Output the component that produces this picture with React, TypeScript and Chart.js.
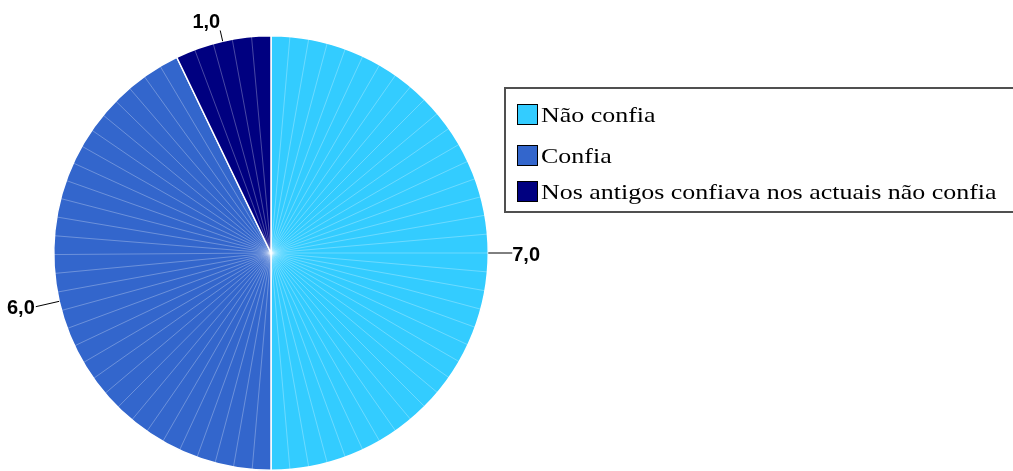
import React, { useEffect, useRef } from "react";
import { Chart, registerables } from "chart.js";

Chart.register(...registerables);

const categories = ["Não confia", "Confia", "Nos antigos confiava nos actuais não confia"];
const values = [7, 6, 1];
const valueLabels = ["7,0", "6,0", "1,0"];
const colors = ["#33CCFF", "#3366CC", "#000080"];

const leaderLengths = [24, 24, 11];
const legendRowTops = [104, 145, 181];

const spokesPlugin = {
  id: "spokes",
  afterDatasetsDraw(chart: any) {
    const ctx = chart.ctx;
    const meta = chart.getDatasetMeta(0);
    ctx.save();
    ctx.strokeStyle = "rgba(255,255,255,0.28)";
    ctx.lineWidth = 1;
    meta.data.forEach((el: any) => {
      const { x, y, startAngle, endAngle, outerRadius } = el.getProps(
        ["x", "y", "startAngle", "endAngle", "outerRadius"],
        true
      );
      const span = endAngle - startAngle;
      const n = Math.max(1, Math.round(span / ((5 * Math.PI) / 180)));
      const step = span / n;
      for (let k = 1; k < n; k++) {
        const a = startAngle + k * step;
        ctx.beginPath();
        ctx.moveTo(x, y);
        ctx.lineTo(x + outerRadius * Math.cos(a), y + outerRadius * Math.sin(a));
        ctx.stroke();
      }
    });
    ctx.restore();
  },
};

const labelsPlugin = {
  id: "valueLabels",
  afterDraw(chart: any) {
    const ctx = chart.ctx;
    const meta = chart.getDatasetMeta(0);
    ctx.save();
    ctx.font = 'bold 20px "Liberation Sans", Arial, sans-serif';
    ctx.fillStyle = "#000";
    ctx.strokeStyle = "#000";
    ctx.lineWidth = 1;
    meta.data.forEach((el: any, i: number) => {
      const { x, y, startAngle, endAngle, outerRadius } = el.getProps(
        ["x", "y", "startAngle", "endAngle", "outerRadius"],
        true
      );
      const mid = (startAngle + endAngle) / 2;
      const c = Math.cos(mid);
      const s = Math.sin(mid);
      const px = x + outerRadius * c;
      const py = y + outerRadius * s;
      const L = leaderLengths[i] ?? 24;
      const ex = px + L * c;
      const ey = py + L * s;
      ctx.beginPath();
      ctx.moveTo(px, py);
      ctx.lineTo(ex, ey);
      ctx.stroke();
      if (Math.abs(c) > 0.5) {
        ctx.textAlign = c > 0 ? "left" : "right";
        ctx.textBaseline = "middle";
        ctx.fillText(valueLabels[i], ex + (c > 0 ? 0 : -1), ey + 2);
      } else {
        ctx.textAlign = c >= 0 ? "left" : "right";
        ctx.textBaseline = s < 0 ? "bottom" : "top";
        ctx.fillText(valueLabels[i], ex, ey + (s < 0 ? 2 : 0));
      }
    });
    ctx.restore();
  },
};

export default function App() {
  const ref = useRef<HTMLCanvasElement | null>(null);
  useEffect(() => {
    if (!ref.current) return;
    const chart = new Chart(ref.current, {
      type: "pie",
      data: {
        labels: categories,
        datasets: [
          {
            data: values,
            backgroundColor: colors,
            borderColor: "#ffffff",
            borderWidth: 1.5,
          },
        ],
      },
      options: {
        responsive: false,
        animation: false,
        layout: { padding: { left: 53, top: 35, right: 524, bottom: 0 } },
        plugins: {
          legend: { display: false },
          tooltip: { enabled: false },
        },
      },
      plugins: [spokesPlugin, labelsPlugin],
    });
    return () => chart.destroy();
  }, []);
  return (
    <div style={{ position: "fixed", left: 0, top: 0, width: 1013, height: 471, background: "#fff", overflow: "hidden" }}>
      <canvas ref={ref} width={1013} height={471} style={{ width: 1013, height: 471, display: "block" }} />
      <div
        style={{
          position: "absolute",
          left: 504,
          top: 87,
          width: 530,
          height: 126,
          border: "2px solid #505050",
          boxSizing: "border-box",
        }}
      />
      {categories.map((cat, i) => (
        <React.Fragment key={cat}>
          <div
            style={{
              position: "absolute",
              left: 517,
              top: legendRowTops[i],
              width: 21,
              height: 21,
              boxSizing: "border-box",
              background: colors[i],
              border: "1.5px solid #000",
            }}
          />
          <div
            style={{
              position: "absolute",
              left: 541,
              top: legendRowTops[i],
              fontFamily: '"Liberation Serif", "Times New Roman", serif',
              fontSize: 22,
              lineHeight: "22px",
              whiteSpace: "nowrap",
              color: "#000",
              transform: "scaleX(1.18)",
              transformOrigin: "left top",
            }}
          >
            {cat}
          </div>
        </React.Fragment>
      ))}
    </div>
  );
}
